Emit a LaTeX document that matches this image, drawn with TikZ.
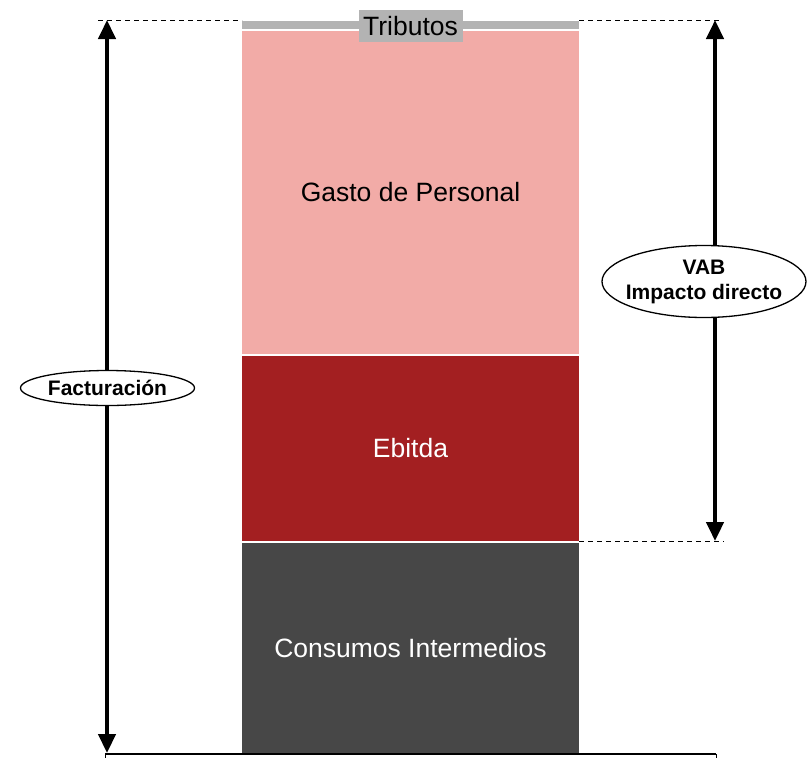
\documentclass[tikz,border=0pt]{standalone}
\usepackage{fontspec}
\setmainfont{Liberation Sans}
\usetikzlibrary{arrows.meta,shapes.geometric}
\definecolor{pinkc}{HTML}{F2ABA7}
\definecolor{redc}{HTML}{A31F21}
\definecolor{darkc}{HTML}{474747}
\definecolor{grayc}{HTML}{B3B3B3}
\tikzset{
  blockbox/.style={draw=none, inner sep=0pt, minimum width=337pt, font=\fontsize{26.5}{30}\selectfont},
  bigarrow/.style={line width=4.5pt, {Triangle[width=17pt,length=19pt]}-{Triangle[width=17pt,length=19pt]}},
  guide/.style={line width=0.9pt, dash pattern=on 5pt off 4pt},
  labelell/.style={ellipse, draw, line width=1.3pt, fill=white, inner sep=0pt},
  labeltext/.style={inner sep=0pt, font=\bfseries\fontsize{21}{25}\selectfont, align=center},
}
\begin{document}
\begin{tikzpicture}[x=1pt,y=-1pt]
\useasboundingbox (0,0) rectangle (808,758);
% blocks
\node[blockbox, fill=grayc, minimum height=8pt] (trib) at (410.5,25) {};
\node[blockbox, fill=pinkc, minimum height=323pt, text=black] (gasto) at (410.5,192.5) {Gasto de Personal};
\node[blockbox, fill=redc, minimum height=185pt, text=white] (ebitda) at (410.5,448.5) {Ebitda};
\node[blockbox, fill=darkc, minimum height=211pt, text=white] (cons) at (410.5,648.5) {Consumos Intermedios};
\node[fill=grayc, inner sep=0pt, minimum width=104pt, minimum height=32pt, font=\fontsize{26.5}{30}\selectfont] (tribl) at (410.5,26) {Tributos};
% guide lines
\coordinate (g1a) at (98,20);
\coordinate (g1b) at (242,20);
\coordinate (g2a) at (579,20);
\coordinate (g2b) at (722,20);
\coordinate (g3a) at (579,541);
\coordinate (g3b) at (724,541);
\draw[guide] (g1a) -- (g1b);
\draw[guide] (g2a) -- (g2b);
\draw[guide] (g3a) -- (g3b);
% axis
\coordinate (ax1) at (105,754);
\coordinate (ax2) at (716,754);
\draw[line width=1.8pt] (ax1) -- (ax2);
\draw[line width=1pt] (ax2) -- ++(0,4);
\draw[line width=1pt] (ax1) -- ++(0,4);
% arrows
\coordinate (ltop) at (107,20);
\coordinate (lbot) at (107,753);
\coordinate (rtop) at (715,20);
\coordinate (rbot) at (715,541);
\draw[bigarrow] (ltop) -- (lbot);
\draw[bigarrow] (rtop) -- (rbot);
\node[labelell, minimum width=174pt, minimum height=35pt] (fact) at (107.5,388) {};
\node[labeltext] (factt) at (fact.center) {Facturación};
\node[labelell, minimum width=204pt, minimum height=72pt] (vab) at (704,281.5) {};
\node[labeltext] (vabt) at (vab.center) {VAB\\Impacto directo};
\end{tikzpicture}
\end{document}
